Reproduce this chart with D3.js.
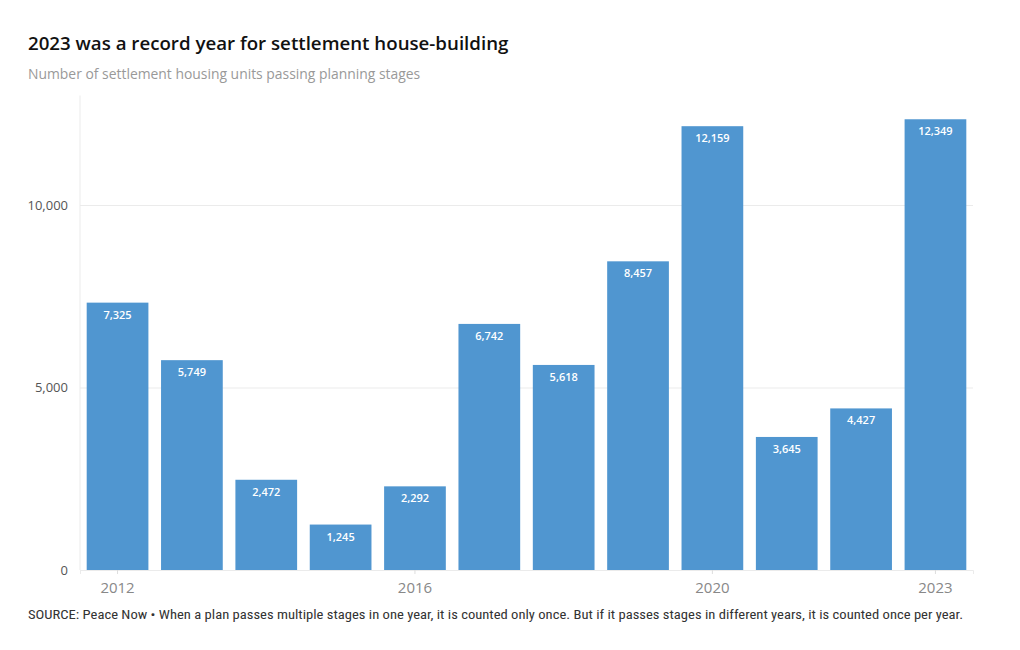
<!DOCTYPE html>
<html><head><meta charset="utf-8">
<script src="https://cdn.jsdelivr.net/npm/d3@7"></script>
<style>body{margin:0;background:#fff}svg{display:block}</style>
</head><body>
<svg id="c" width="1020" height="650"></svg>
<script>
const years = ["2012","2013","2014","2015","2016","2017","2018","2019","2020","2021","2022","2023"];
const units = [7325,5749,2472,1245,2292,6742,5618,8457,12159,3645,4427,12349];
const yTicks = [0,5000,10000];
const xTickLabels = ["2012","2016","2020","2023"];

const svg = d3.select("#c");
const font = "'Open Sans', 'Noto Sans', sans-serif";
const pLeft = 80, pRight = 973, pTop = 95.5, pBottom = 570;

const x = d3.scaleBand().domain(years).range([pLeft, pRight]).paddingInner(0.17).paddingOuter(0.09);
const y = d3.scaleLinear().domain([0,13000]).range([pBottom, pTop]);

svg.append("text").attr("x",28).attr("y",50).text("2023 was a record year for settlement house-building")
  .attr("font-family",font).attr("font-weight",600).attr("font-size",18.7).attr("fill","#111");
svg.append("text").attr("x",28).attr("y",79).text("Number of settlement housing units passing planning stages")
  .attr("font-family",font).attr("font-size",13.9).attr("fill","#999");

const gy = svg.append("g").attr("transform",`translate(${pLeft},0)`)
  .call(d3.axisLeft(y).tickValues(yTicks).tickSize(-(pRight-pLeft)).tickPadding(12).tickFormat(d3.format(",")));
gy.select(".domain").remove();
gy.selectAll(".tick line").attr("stroke","#ebebeb");
gy.selectAll(".tick text").attr("font-family",font).attr("font-size",13).attr("fill","#555");

svg.append("line").attr("x1",pLeft).attr("x2",pLeft).attr("y1",pTop).attr("y2",pBottom).attr("stroke","#ebebeb");

svg.append("g").selectAll("rect").data(years).join("rect")
  .attr("x",d=>x(d)).attr("width",x.bandwidth())
  .attr("y",(d,i)=>y(units[i])).attr("height",(d,i)=>pBottom-y(units[i]))
  .attr("fill","#5096d0");

svg.append("g").selectAll("text").data(years).join("text")
  .attr("x",d=>x(d)+x.bandwidth()/2).attr("y",(d,i)=>y(units[i])+16)
  .attr("text-anchor","middle").attr("font-family",font).attr("font-weight",600)
  .attr("font-size",11).attr("fill","#fff").text((d,i)=>d3.format(",")(units[i]));

const gx = svg.append("g").attr("transform",`translate(0,${pBottom})`)
  .call(d3.axisBottom(x).tickValues(xTickLabels).tickSize(4).tickPadding(8));
gx.select(".domain").attr("stroke","#ebebeb");
gx.selectAll(".tick line").attr("stroke","#ddd");
gx.selectAll(".tick text").attr("font-family",font).attr("font-size",15).attr("fill","#888");

svg.append("text").attr("x",28).attr("y",619)
  .text("SOURCE: Peace Now \u2022 When a plan passes multiple stages in one year, it is counted only once. But if it passes stages in different years, it is counted once per year.")
  .attr("font-family","'Liberation Sans Narrow', 'Roboto Condensed', 'Liberation Sans', sans-serif")
  .attr("font-size",13).attr("fill","#333").attr("textLength",935).attr("lengthAdjust","spacingAndGlyphs");
</script>
</body></html>
